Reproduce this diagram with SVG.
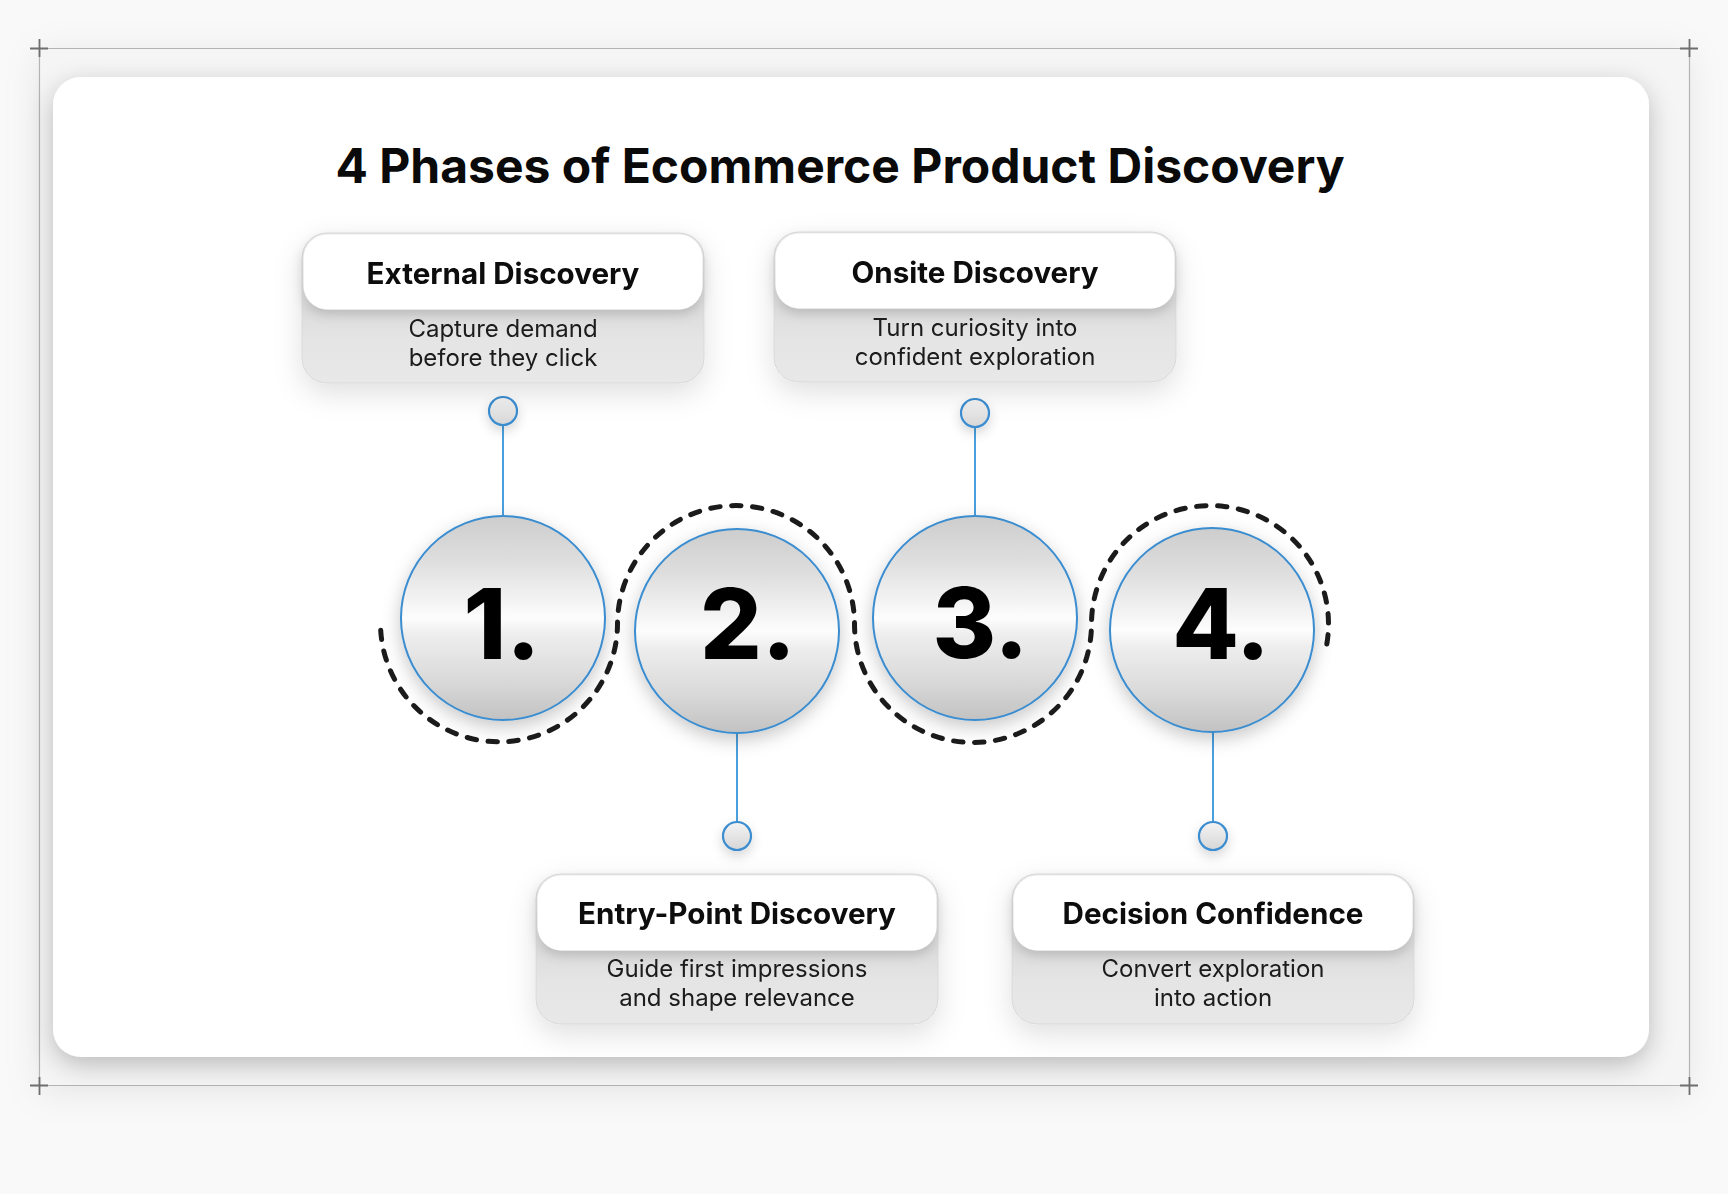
<svg xmlns="http://www.w3.org/2000/svg" width="1728" height="1194" viewBox="0 0 1728 1194">
<defs>
<style>
.title{font-family:Inter,"Liberation Sans",sans-serif;font-weight:700;font-size:48px;fill:#0a0a0a}
.hdr{font-family:Inter,"Liberation Sans",sans-serif;font-weight:700;font-size:29.6px;fill:#0a0a0a}
.desc{font-family:Inter,"Liberation Sans",sans-serif;font-weight:400;font-size:24px;fill:#1a1a1a}
.num{font-family:Inter,"Liberation Sans",sans-serif;font-weight:800;font-size:97px;fill:#000}
.big{fill:url(#metal);stroke:#3a8dd0;stroke-width:2}
.dot{fill:url(#dotg);stroke:#3a8dd0;stroke-width:2.2}
.conn{stroke:#4aa0de;stroke-width:2;fill:none}
.ring{fill:none;stroke:#1b1b1b;stroke-width:5;stroke-dasharray:9.5 11.5;stroke-linecap:round}
.boxout{fill:url(#boxg);stroke:#d8d8d8;stroke-width:1}
.boxhead{fill:#fff}
.crop{stroke:#b3b3b3;stroke-width:1.2}
.plus{stroke:#6e6e6e;stroke-width:1.8}
</style>
<linearGradient id="metal" x1="0" y1="0" x2="0" y2="1">
<stop offset="0" stop-color="#cdcdcd"/>
<stop offset="0.22" stop-color="#dedede"/>
<stop offset="0.44" stop-color="#f6f6f6"/>
<stop offset="0.5" stop-color="#fdfdfd"/>
<stop offset="0.58" stop-color="#eeeeee"/>
<stop offset="0.8" stop-color="#dadada"/>
<stop offset="1" stop-color="#c2c2c2"/>
</linearGradient>
<linearGradient id="dotg" x1="0" y1="0" x2="0" y2="1">
<stop offset="0" stop-color="#f4f4f4"/>
<stop offset="1" stop-color="#d6d6d6"/>
</linearGradient>
<linearGradient id="boxg" x1="0" y1="0" x2="0" y2="1">
<stop offset="0" stop-color="#efefef"/>
<stop offset="0.5" stop-color="#dddcdd"/>
<stop offset="0.72" stop-color="#e6e5e6"/>
<stop offset="1" stop-color="#e9e8e9"/>
</linearGradient>
<filter id="cardsh" x="-10%" y="-10%" width="120%" height="125%">
<feDropShadow dx="0" dy="8" stdDeviation="13" flood-color="#000" flood-opacity="0.24"/>
</filter>
<filter id="framesh" x="-10%" y="-10%" width="120%" height="125%">
<feDropShadow dx="0" dy="6" stdDeviation="18" flood-color="#000" flood-opacity="0.08"/>
</filter>
<filter id="boxsh" x="-30%" y="-30%" width="160%" height="170%">
<feDropShadow dx="0" dy="10" stdDeviation="14" flood-color="#000" flood-opacity="0.12"/>
</filter>
<filter id="hdrsh" x="-10%" y="-20%" width="120%" height="160%">
<feDropShadow dx="0" dy="5" stdDeviation="6" flood-color="#000" flood-opacity="0.16"/>
</filter>
<filter id="circsh" x="-30%" y="-30%" width="160%" height="170%">
<feDropShadow dx="0" dy="6" stdDeviation="9" flood-color="#000" flood-opacity="0.22"/>
</filter>
<filter id="dotsh" x="-80%" y="-80%" width="260%" height="280%">
<feDropShadow dx="0" dy="5" stdDeviation="6" flood-color="#000" flood-opacity="0.16"/>
</filter>
</defs>

<rect x="0" y="0" width="1728" height="1194" fill="#f9f9f9"/>
<rect x="39" y="48" width="1650" height="1038" fill="#f5f5f5" filter="url(#framesh)"/>

<g id="crop-marks">
<line class="crop" x1="39" y1="48.5" x2="1689" y2="48.5"/>
<line class="crop" x1="39" y1="1085.5" x2="1689" y2="1085.5"/>
<line class="crop" x1="39.5" y1="48" x2="39.5" y2="1086"/>
<line class="crop" x1="1689.5" y1="48" x2="1689.5" y2="1086"/>
<path class="plus" d="M30 48.5h18M39.5 39v18M1680 48.5h18M1689.5 39v18M30 1085.5h18M39.5 1077v18M1680 1085.5h18M1689.5 1077v18"/>
</g>

<rect id="card" x="53" y="77" width="1596" height="980" rx="28" fill="#fff" filter="url(#cardsh)"/>

<text id="title" class="title" x="840" y="183" text-anchor="middle">4 Phases of Ecommerce Product Discovery</text>

<g id="connectors">
<line class="conn" x1="503" y1="425" x2="503" y2="516"/>
<line class="conn" x1="975" y1="427" x2="975" y2="516"/>
<line class="conn" x1="737" y1="733" x2="737" y2="822"/>
<line class="conn" x1="1213" y1="733" x2="1213" y2="822"/>
<path id="dashed-wave" class="ring" d="M380.7 630.2 A118.5 118.5 0 0 0 617.5 624 A118.5 118.5 0 0 1 854.5 624 A118.5 118.5 0 0 0 1091.5 624 A118.5 118.5 0 1 1 1325 652.7"/>
</g>

<g id="phase-1">
<circle class="big" cx="503" cy="618" r="102" filter="url(#circsh)"/>
<text class="num" x="502" y="659" text-anchor="middle">1.</text>
<circle class="dot" cx="503" cy="411" r="14" filter="url(#dotsh)"/>
</g>
<g id="phase-2">
<circle class="big" cx="737" cy="631" r="102" filter="url(#circsh)"/>
<text class="num" x="748" y="659" text-anchor="middle">2.</text>
<circle class="dot" cx="737" cy="836" r="14" filter="url(#dotsh)"/>
</g>
<g id="phase-3">
<circle class="big" cx="975" cy="618" r="102" filter="url(#circsh)"/>
<text class="num" x="980.5" y="658" text-anchor="middle">3.</text>
<circle class="dot" cx="975" cy="413" r="14" filter="url(#dotsh)"/>
</g>
<g id="phase-4">
<circle class="big" cx="1212" cy="630" r="102" filter="url(#circsh)"/>
<text class="num" x="1221" y="659" text-anchor="middle">4.</text>
<circle class="dot" cx="1213" cy="836" r="14" filter="url(#dotsh)"/>
</g>

<g id="box-external" filter="url(#boxsh)">
<rect class="boxout" x="302" y="233" width="402" height="150" rx="25"/>
<rect class="boxhead" x="303.5" y="234.5" width="399" height="75" rx="24" filter="url(#hdrsh)"/>
<text class="hdr" x="503" y="284" text-anchor="middle">External Discovery</text>
<text class="desc" x="503" y="337" text-anchor="middle">Capture demand</text>
<text class="desc" x="503" y="366" text-anchor="middle">before they click</text>
</g>
<g id="box-onsite" filter="url(#boxsh)">
<rect class="boxout" x="774" y="232" width="402" height="150" rx="25"/>
<rect class="boxhead" x="775.5" y="233.5" width="399" height="75" rx="24" filter="url(#hdrsh)"/>
<text class="hdr" x="975" y="283" text-anchor="middle">Onsite Discovery</text>
<text class="desc" x="975" y="336" text-anchor="middle">Turn curiosity into</text>
<text class="desc" x="975" y="365" text-anchor="middle">confident exploration</text>
</g>
<g id="box-entry" filter="url(#boxsh)">
<rect class="boxout" x="536" y="874" width="402" height="150" rx="25"/>
<rect class="boxhead" x="537.5" y="875.5" width="399" height="75" rx="24" filter="url(#hdrsh)"/>
<text class="hdr" x="737" y="924" text-anchor="middle">Entry-Point Discovery</text>
<text class="desc" x="737" y="977" text-anchor="middle">Guide first impressions</text>
<text class="desc" x="737" y="1006" text-anchor="middle">and shape relevance</text>
</g>
<g id="box-decision" filter="url(#boxsh)">
<rect class="boxout" x="1012" y="874" width="402" height="150" rx="25"/>
<rect class="boxhead" x="1013.5" y="875.5" width="399" height="75" rx="24" filter="url(#hdrsh)"/>
<text class="hdr" x="1213" y="924" text-anchor="middle">Decision Confidence</text>
<text class="desc" x="1213" y="977" text-anchor="middle">Convert exploration</text>
<text class="desc" x="1213" y="1006" text-anchor="middle">into action</text>
</g>
</svg>
